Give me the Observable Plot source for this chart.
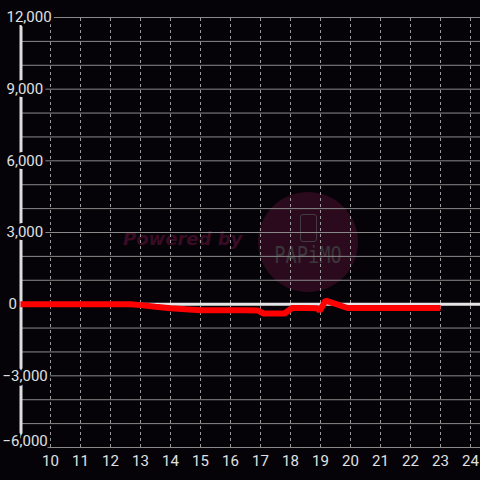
<!DOCTYPE html>
<html>
<head>
<meta charset="utf-8">
<script src="https://cdn.jsdelivr.net/npm/d3@7"></script>
<script src="https://cdn.jsdelivr.net/npm/@observablehq/plot@0.6"></script>
<style>
  html, body { margin: 0; padding: 0; background: #050308; }
  #wrap { position: relative; width: 480px; height: 480px; overflow: hidden; background: #050308; }
  #wm { position: absolute; left: 0; top: 0; width: 480px; height: 480px; }
  .circle { position: absolute; left: 258px; top: 192px; width: 100px; height: 100px; border-radius: 50%; background: #2c0a1e; }
  .phone { position: absolute; left: 300px; top: 214px; width: 15px; height: 26px; border: 1.5px solid #423c42; border-radius: 3px; }
  .papimo { position: absolute; left: 258px; top: 243px; width: 100px; text-align: center; font: 23px "DejaVu Sans Mono", monospace; color: #3a363a; transform: scaleX(0.81); transform-origin: 50% 50%; line-height: 1.1; }
  .powered { position: absolute; left: 123px; top: 228px; font: italic bold 18px "DejaVu Sans", sans-serif; color: #3a0c24; white-space: nowrap; }
  #chart { position: absolute; left: 0; top: 0; }
</style>
</head>
<body>
<div id="wrap">
  <div id="wm">
    <div class="circle"></div>
    <div class="phone"></div>
    <div class="papimo">PAPiMO</div>
    <div class="powered">Powered by</div>
  </div>
  <div id="chart"></div>
</div>
<script>
// Data (hour of day, value)
const hours  = [9, 10, 11, 12, 12.67, 13, 13.5, 14, 14.5, 15, 15.5, 16, 16.5, 16.9, 17.1, 17.5, 17.8, 18.05, 18.5, 18.9, 18.97, 19.17, 19.5, 19.9, 20.5, 21, 22, 23];
const values = [0, 0, 0, 0, 0, -40, -110, -170, -215, -250, -250, -250, -250, -260, -390, -390, -390, -160, -160, -170, -290, 150, 10, -160, -160, -160, -160, -160];

const xTicks = [10, 11, 12, 13, 14, 15, 16, 17, 18, 19, 20, 21, 22, 23, 24];
const yTicks = [-6000, -3000, 0, 3000, 6000, 9000, 12000];
const yGrid  = [-6000, -5000, -4000, -3000, -2000, -1000, 0, 1000, 2000, 3000, 4000, 5000, 6000, 7000, 8000, 9000, 10000, 11000, 12000];

const data = hours.map((h, i) => ({h, v: values[i]}));
const fmt = d3.format(",");
const bg = "#050308";
const fontFam = "Roboto, 'Liberation Sans', sans-serif";

const chart = Plot.plot({
  width: 480,
  height: 480,
  marginTop: 17,
  marginBottom: 33,
  marginLeft: 20,
  marginRight: 0,
  style: {background: "transparent", fontFamily: fontFam, overflow: "visible"},
  x: {domain: [9, 24.3333], axis: null},
  y: {domain: [-6000, 12000], axis: null},
  marks: [
    Plot.ruleY(yGrid, {stroke: "#8a8a8a", strokeWidth: 1}),
    Plot.ruleX(xTicks, {y1: -6000, y2: 12000, stroke: "#9a9a9a", strokeWidth: 1, strokeDasharray: "3,3"}),
    Plot.ruleY([0], {stroke: "#e6e6e6", strokeWidth: 3}),
    Plot.ruleX([9], {y1: -6000, y2: 12000, stroke: "#dddddd", strokeWidth: 3, dx: 0.5}),
    Plot.line(data, {x: "h", y: "v", stroke: "#ff0000", strokeWidth: 6, strokeLinejoin: "miter", strokeLinecap: "butt"}),
    Plot.text(yTicks, {
      x: 9, y: d => d, text: d => fmt(d),
      textAnchor: "start",
      fill: "#e0e0e0", stroke: bg, strokeWidth: 6, paintOrder: "stroke",
      fontSize: 15
    }),
    Plot.text(xTicks, {x: d => d, y: -6000, text: d => String(d), dy: 14, fill: "#e0e0e0", fontSize: 15})
  ]
});

// shift y labels relative to the axis (labels sit partly left of it)
chart.querySelectorAll("g[aria-label='text']")[0].querySelectorAll("text").forEach((t, i) => {
  const v = yTicks[i];
  const off = v < 0 ? -18 : (v === 0 ? -12 : -14);
  t.setAttribute("dx", off);
  if (i === 0) t.setAttribute("dy", "-0.05em");
  if (v === yTicks[0]) t.setAttribute("transform", (t.getAttribute("transform") || "") + " translate(0,-6)");
});

document.getElementById("chart").appendChild(chart);
</script>
</body>
</html>
